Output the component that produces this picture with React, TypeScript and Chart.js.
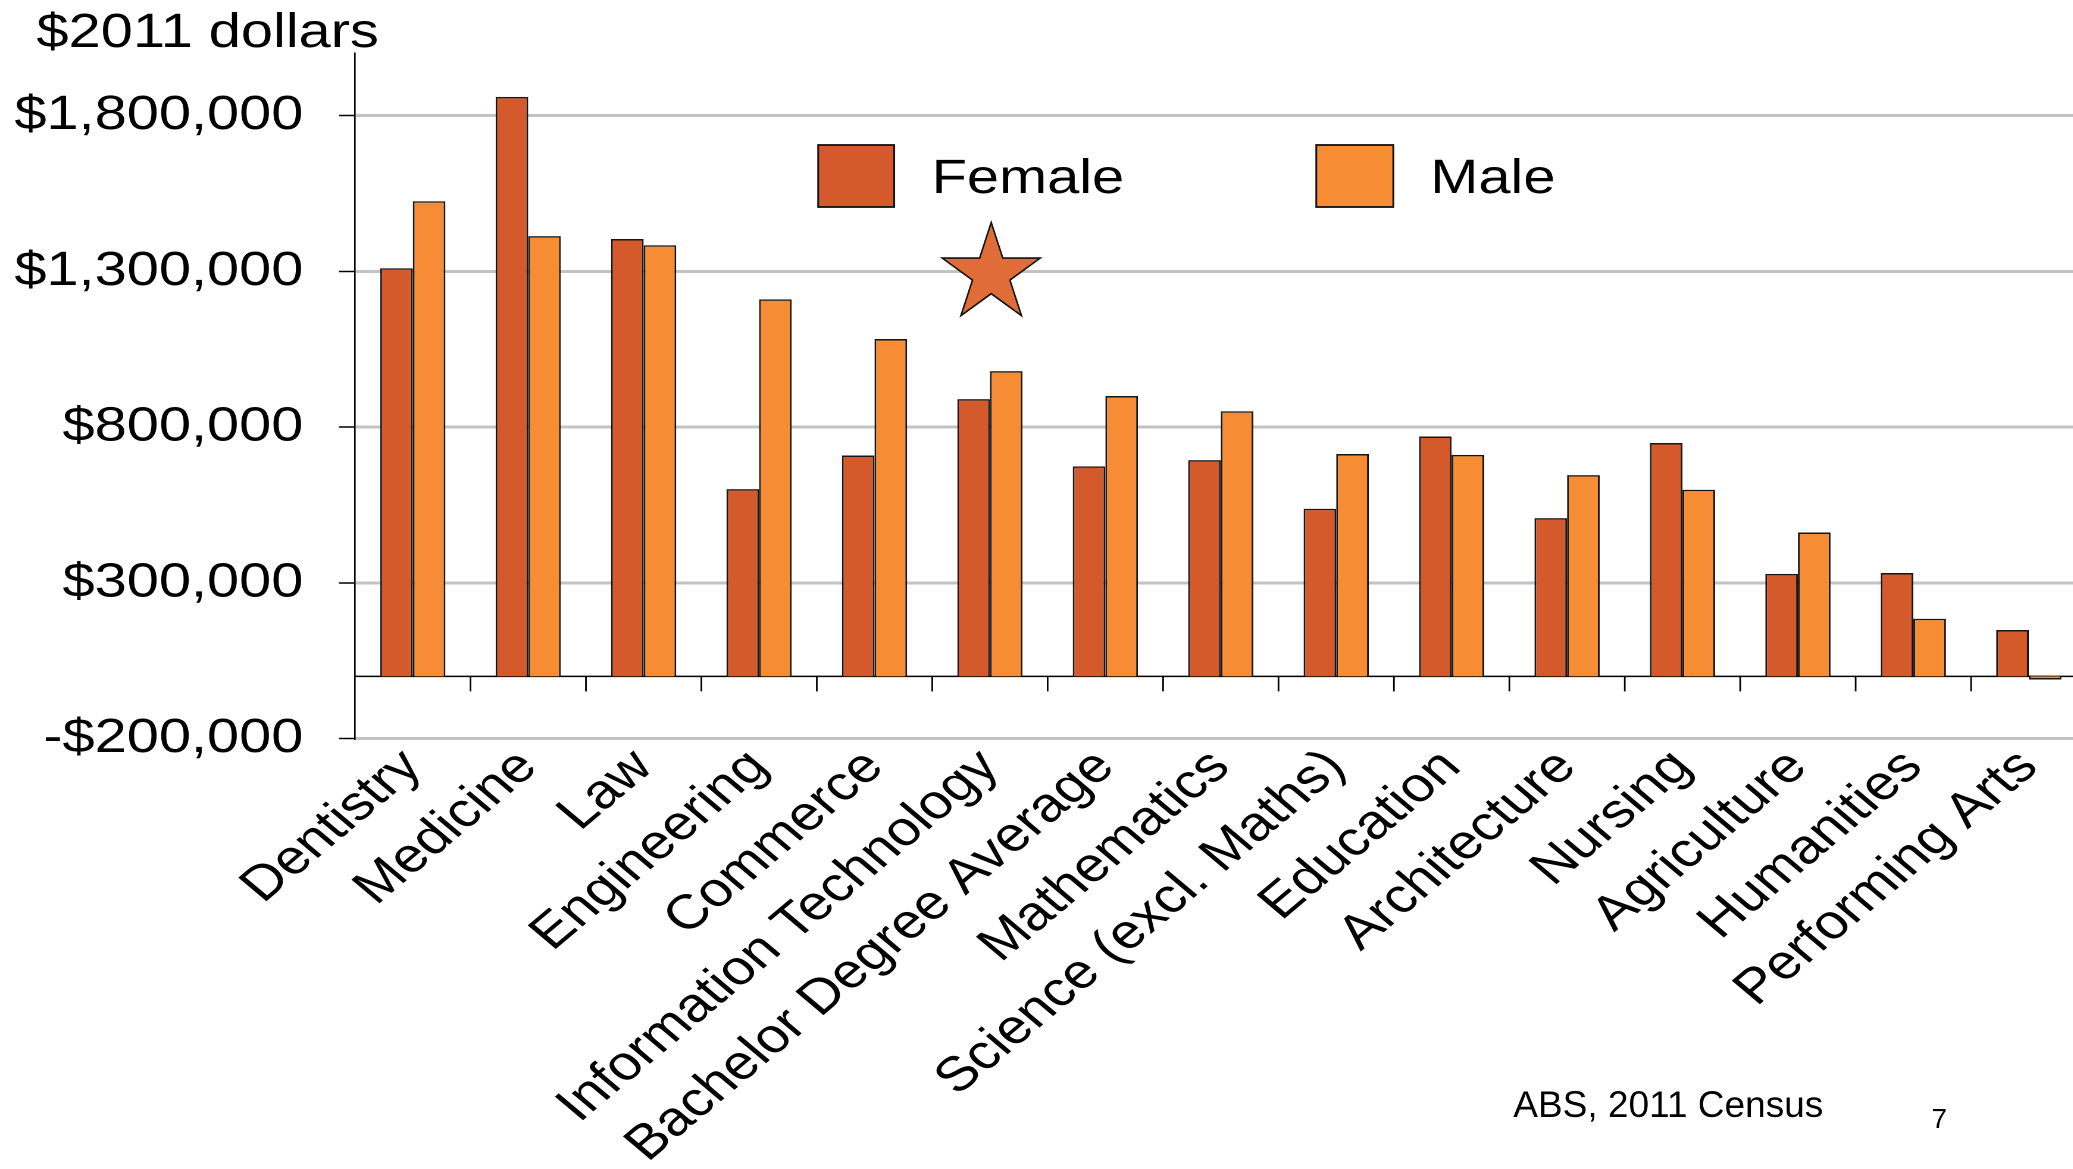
import React, { useEffect, useRef } from 'react';
import { Chart, registerables } from 'chart.js';

Chart.register(...registerables);

// ---- data ----
const categories = [
  'Dentistry',
  'Medicine',
  'Law',
  'Engineering',
  'Commerce',
  'Information Technology',
  'Bachelor Degree Average',
  'Mathematics',
  'Science (excl. Maths)',
  'Education',
  'Architecture',
  'Nursing',
  'Agriculture',
  'Humanities',
  'Performing Arts',
];
const femaleValues = [1310000, 1860000, 1404000, 601000, 709000, 890000, 674000, 694000, 538000, 770000, 508000, 749000, 329000, 332000, 149000];
const maleValues = [1525000, 1413000, 1384000, 1210000, 1083000, 980000, 900000, 851000, 714000, 711000, 646000, 599000, 462000, 185000, -10000];
const seriesLabels = ['Female', 'Male'];
const yTicks = [-200000, 300000, 800000, 1300000, 1800000];
const yMin = -200000;
const yMax = 2000000;
const titleText = '$2011 dollars';
const sourceText = 'ABS, 2011 Census';
const pageNumber = '7';

// ---- style ----
const S = 1.19; // horizontal stretch of the original picture
const LW = 1803; // logical canvas width
const LH = 1169;
const FEMALE = '#D55A2B';
const MALE = '#F68D34';
const STAR = '#E06D37';
const FONT = '"Liberation Sans", Arial, sans-serif';
const FS = 48.5;

function fmt(v: number) {
  const s = Math.abs(v).toLocaleString('en-US');
  return (v < 0 ? '-$' : '$') + s;
}

const decorPlugin = {
  id: 'decor',
  beforeDatasetsDraw(chart: any) {
    const { ctx, chartArea, scales } = chart;
    const x = scales.x;
    const y = scales.y;
    const y0 = y.getPixelForValue(0);
    ctx.save();
    ctx.strokeStyle = '#000';
    ctx.lineWidth = 1.5;
    ctx.beginPath();
    ctx.moveTo(chartArea.left, y0);
    ctx.lineTo(chartArea.right, y0);
    ctx.stroke();
    ctx.lineWidth = 1.4;
    for (let i = 1; i < categories.length; i++) {
      const bx = (x.getPixelForValue(i - 1) + x.getPixelForValue(i)) / 2;
      ctx.beginPath();
      ctx.moveTo(bx, y0);
      ctx.lineTo(bx, y0 + 15);
      ctx.stroke();
    }
    ctx.restore();
  },
  afterDraw(chart: any) {
    const { ctx } = chart;
    ctx.save();
    // draw in "actual" pixel space (undo the horizontal stretch)
    ctx.scale(1 / S, 1);
    ctx.fillStyle = '#000';
    ctx.textBaseline = 'alphabetic';
    ctx.textAlign = 'left';

    // title (stretched text)
    ctx.save();
    ctx.scale(S, 1);
    ctx.font = `${FS}px ${FONT}`;
    ctx.fillText(titleText, 36.5 / S, 47);
    ctx.restore();

    // legend
    const boxes = [
      { x: 818, w: 76, color: FEMALE, tx: 931.5, label: seriesLabels[0] },
      { x: 1316, w: 77, color: MALE, tx: 1430, label: seriesLabels[1] },
    ];
    boxes.forEach((b) => {
      ctx.fillStyle = b.color;
      ctx.fillRect(b.x, 145, b.w, 62);
      ctx.strokeStyle = '#111';
      ctx.lineWidth = 1.8;
      ctx.strokeRect(b.x, 145, b.w, 62);
      ctx.save();
      ctx.scale(S, 1);
      ctx.fillStyle = '#000';
      ctx.font = `${FS}px ${FONT}`;
      ctx.fillText(b.label, b.tx / S, 193);
      ctx.restore();
    });

    // star
    const cx = 991;
    const cy = 274;
    const R = 51.5;
    const r = R * 0.382;
    ctx.beginPath();
    for (let k = 0; k < 10; k++) {
      const a = (Math.PI / 5) * k;
      const rr = k % 2 === 0 ? R : r;
      const px = cx + rr * Math.sin(a);
      const py = cy - rr * Math.cos(a);
      if (k === 0) ctx.moveTo(px, py);
      else ctx.lineTo(px, py);
    }
    ctx.closePath();
    ctx.fillStyle = STAR;
    ctx.fill();
    ctx.strokeStyle = '#111';
    ctx.lineWidth = 1.6;
    ctx.stroke();

    // footer (not stretched)
    ctx.fillStyle = '#000';
    ctx.font = `37px ${FONT}`;
    ctx.fillText(sourceText, 1513, 1117);
    ctx.font = `28px ${FONT}`;
    ctx.fillText(pageNumber, 1931, 1128);
    ctx.restore();
  },
};

export default function App() {
  const ref = useRef<HTMLCanvasElement | null>(null);
  useEffect(() => {
    if (!ref.current) return;
    const chart = new Chart(ref.current, {
      type: 'bar',
      data: {
        labels: categories,
        datasets: [
          {
            label: seriesLabels[0],
            data: femaleValues,
            backgroundColor: FEMALE,
            borderColor: '#151515',
            borderWidth: 1.5,
            categoryPercentage: 0.565,
            barPercentage: 1,
          },
          {
            label: seriesLabels[1],
            data: maleValues,
            backgroundColor: MALE,
            borderColor: '#151515',
            borderWidth: 1.5,
            categoryPercentage: 0.565,
            barPercentage: 1,
          },
        ],
      },
      options: {
        responsive: false,
        animation: false,
        devicePixelRatio: 2,
        layout: { padding: { top: 53.3, right: LW - 1753, bottom: 0, left: 0 } },
        plugins: { legend: { display: false }, tooltip: { enabled: false }, title: { display: false } },
        scales: {
          x: {
            type: 'category',
            position: 'bottom',
            grid: { display: false, drawTicks: false },
            border: { display: false },
            ticks: {
              font: { family: FONT, size: FS },
              color: '#000',
              maxRotation: 45,
              minRotation: 45,
              padding: 0,
              autoSkip: false,
            },
            afterFit: (s: any) => {
              s.height = LH - 738.7;
              s.paddingLeft = 0;
              s.paddingRight = 0;
            },
          },
          y: {
            type: 'linear',
            min: yMin,
            max: yMax,
            position: 'left',
            afterBuildTicks: (s: any) => {
              s.ticks = yTicks.map((v) => ({ value: v }));
            },
            afterFit: (s: any) => {
              s.width = 355 / S;
              s.paddingTop = 0;
              s.paddingBottom = 0;
            },
            ticks: {
              font: { family: FONT, size: FS },
              color: '#000',
              padding: 30,
              callback: (v: any) => fmt(Number(v)),
            },
            grid: {
              color: '#C3C3C3',
              lineWidth: 3,
              tickColor: '#000',
              tickWidth: 1.5,
              tickLength: 13.5,
              drawTicks: true,
            },
            border: { display: true, color: '#000', width: 1.3 },
          },
        },
      },
      plugins: [decorPlugin],
    } as any);
    return () => chart.destroy();
  }, []);

  return (
    <div
      style={{
        position: 'fixed',
        left: 0,
        top: 0,
        width: 2073,
        height: 1169,
        overflow: 'hidden',
        background: '#fff',
      }}
    >
      <canvas
        ref={ref}
        width={LW}
        height={LH}
        style={{ width: `${LW * S}px`, height: `${LH}px`, display: 'block' }}
      />
    </div>
  );
}
